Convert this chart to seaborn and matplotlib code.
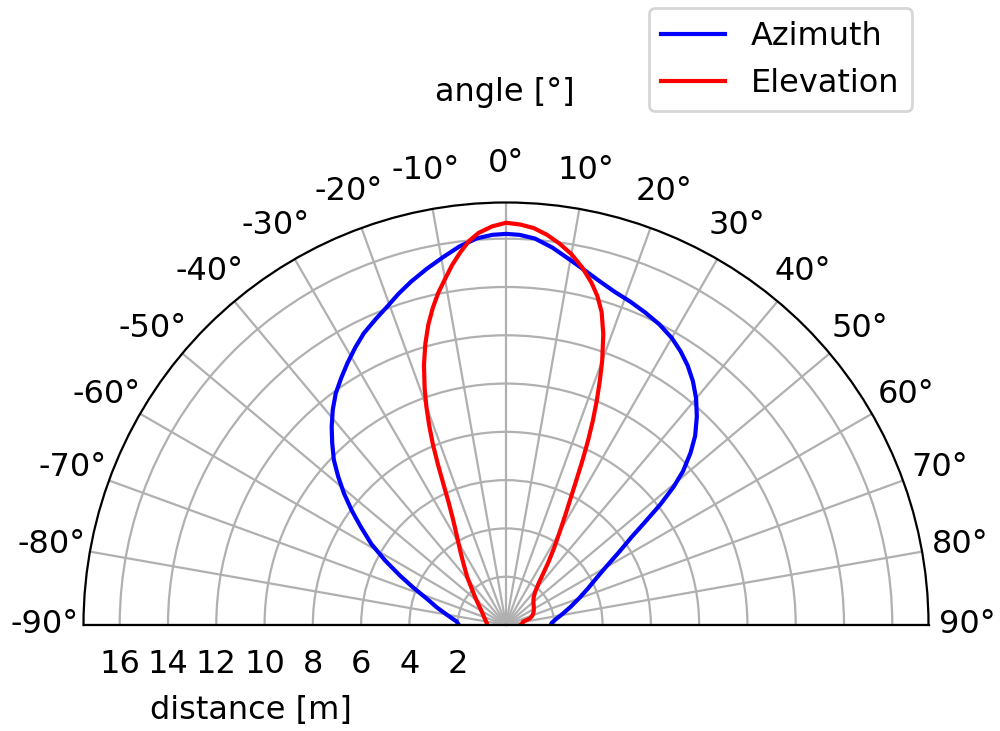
import numpy as np
import pandas as pd
import matplotlib
matplotlib.use('Agg')
import matplotlib.pyplot as plt
import seaborn as sns

# values (angle in degrees, distance in m)
az_angle = [-90, -86, -83, -80, -75.8, -72, -68, -65, -62, -59, -55.9, -53.4,
            -50.9, -48.5, -46.2, -43.7, -41.3, -38.8, -36.3, -33.7, -31.2, -28.5,
            -26, -23, -20.5, -18, -15.5, -12.5, -9.6, -7, -4.3, -2, 0,
            2, 4.3, 7, 10, 12.5, 15, 18, 21, 24, 27, 30, 32.5, 35, 37.5, 40, 42.5,
            45, 47, 49, 50.5, 52, 53.5, 55, 57.4, 59.8, 62.6, 65.8, 69.8, 74.4, 79,
            83.7, 87.5, 90]
az_dist = [1.95, 2.05, 2.25, 2.5, 2.95, 3.4, 4.15, 4.85, 5.65, 6.5, 7.27, 7.96,
           8.65, 9.28, 9.88, 10.42, 10.94, 11.45, 11.91, 12.3, 12.68, 13.08,
           13.44, 13.78, 14.07, 14.42, 14.75, 15.12, 15.47, 15.8, 16.06, 16.17, 16.2,
           16.17, 16.05, 15.75, 15.35, 15.05, 14.78, 14.52, 14.35, 14.17, 13.98,
           13.73, 13.45, 13.12, 12.72, 12.25, 11.7, 11.08, 10.45, 9.72, 9.0, 8.12,
           7.15, 6.35, 5.5, 4.8, 4.22, 3.74, 3.24, 2.77, 2.38, 2.06, 1.89, 1.86]

el_angle = [-90, -84, -75, -63, -55, -48, -43, -39, -35, -32, -30, -28, -26.5,
            -25, -24, -23, -22, -21, -20, -19, -17.5, -16, -14.5, -13, -11.5, -10,
            -8.5, -7, -5.5, -4, -2, 0,
            2, 4, 6, 8, 10, 12, 14, 15.5, 17, 18.5, 20, 21, 22, 23, 24, 25, 26, 27,
            28, 30, 32, 34, 36, 38, 41.5, 45, 50, 55, 61.6, 67, 71, 74.7, 77, 79,
            85, 90]
el_dist = [0.78, 0.8, 0.9, 1.1, 1.35, 1.72, 2.1, 2.55, 3.05, 3.55, 3.95, 4.45,
           4.95, 5.65, 6.35, 7.2, 8.1, 8.9, 9.65, 10.35, 11.3, 12.12, 12.85, 13.48,
           14.05, 14.55, 15.08, 15.55, 15.98, 16.28, 16.52, 16.66,
           16.6, 16.48, 16.25, 15.95, 15.6, 15.15, 14.62, 14.15, 13.55, 12.7, 11.65,
           10.85, 10.05, 9.22, 8.35, 7.45, 6.6, 5.9, 5.35, 4.45, 3.75, 3.15, 2.6,
           2.2, 1.82, 1.62, 1.48, 1.4, 1.31, 1.23, 1.14, 1.02, 0.85, 0.72, 0.68, 0.6]

angle_ticks = list(range(-90, 91, 10))
angle_labels = [f'{a}°' for a in angle_ticks]
dist_ticks = [2, 4, 6, 8, 10, 12, 14, 16]

df = pd.concat([
    pd.DataFrame({'angle': az_angle, 'dist': az_dist, 'series': 'Azimuth'}),
    pd.DataFrame({'angle': el_angle, 'dist': el_dist, 'series': 'Elevation'}),
])
df['theta'] = np.deg2rad(df['angle'])

plt.rcParams['font.size'] = 11.5
fig = plt.figure(figsize=(5, 3.655), dpi=200)
# square box; the half disc sits in its vertical middle
ax = fig.add_axes([0.0835, -0.144, 0.845, 1.156], projection='polar')
ax.set_theta_zero_location('N')
ax.set_theta_direction(-1)
ax.set_thetamin(-90)
ax.set_thetamax(90)

sns.lineplot(data=df, x='theta', y='dist', hue='series',
             palette={'Azimuth': 'blue', 'Elevation': 'red'},
             sort=False, estimator=None, ax=ax)

ax.set_ylim(0, 17.5)
ax.set_rticks(dist_ticks)
ax.set_thetagrids(angle_ticks, angle_labels)
ax.tick_params(axis='y', pad=5)
ax.grid(True)
ax.set_xlabel('')
ax.set_ylabel('')

handles, labels = ax.get_legend_handles_labels()
ax.legend_.remove()
fig.legend(handles, labels, loc='upper right', bbox_to_anchor=(0.928, 1.011))

fig.text(0.505, 1 - 93 / 731, 'angle [°]', ha='center', va='center')
fig.text(0.251, 1 - 710 / 731, 'distance [m]', ha='center', va='center')

fig.savefig('out.png', dpi=200)
